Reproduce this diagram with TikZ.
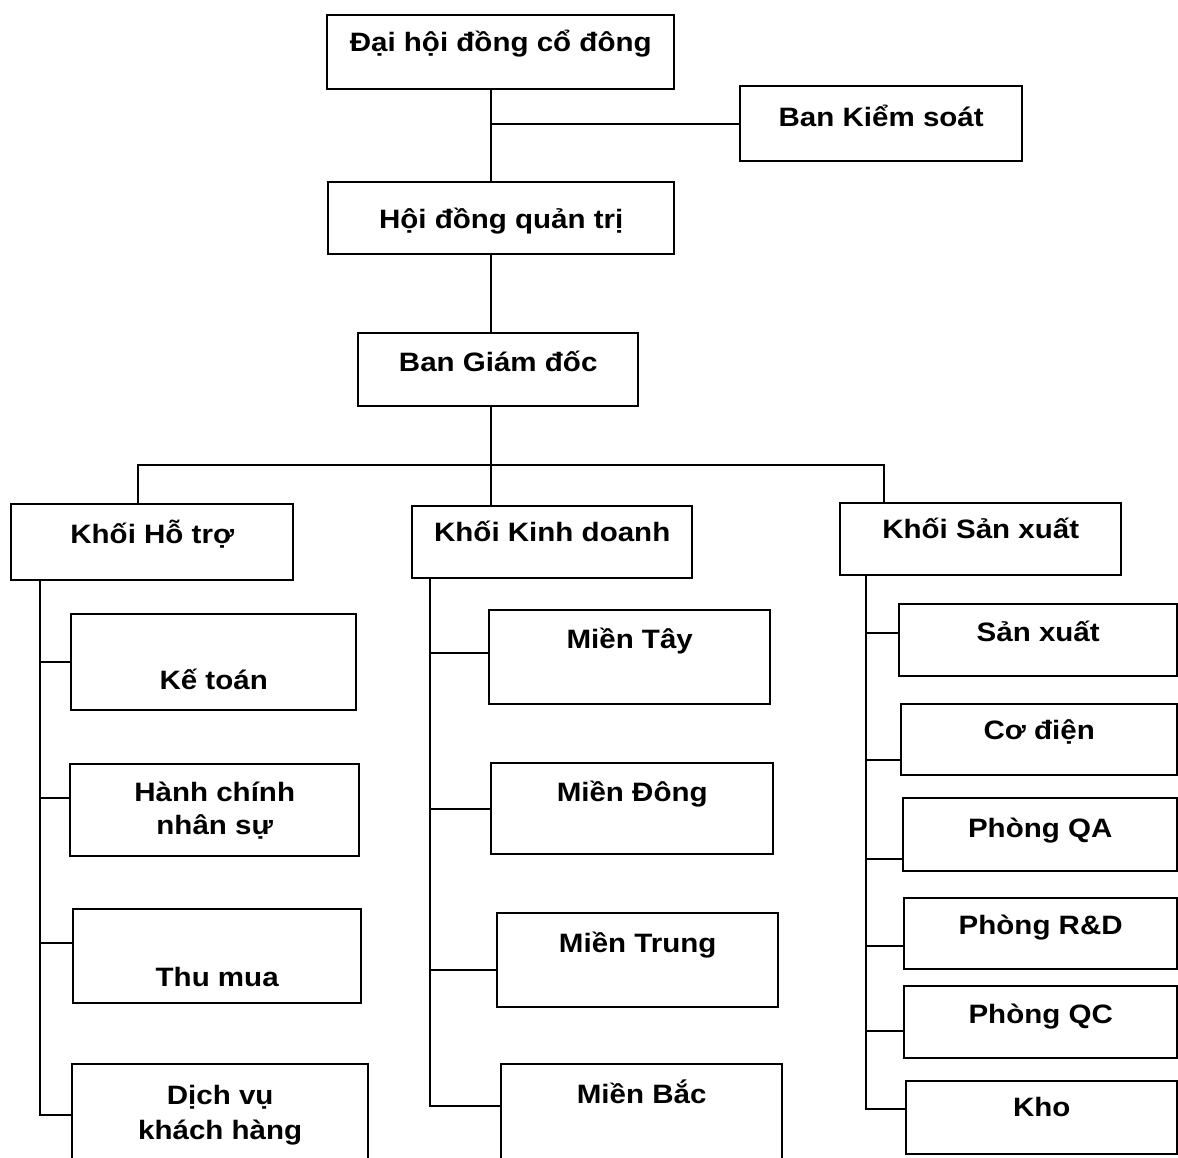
\documentclass[tikz,border=0pt]{standalone}
\usepackage{fontspec}
\setmainfont{Liberation Sans}[FakeStretch=1.11]
\usetikzlibrary{positioning}

\begin{document}
\begin{tikzpicture}[
            x=0.5pt, y=-0.5pt,
            box/.style={draw, line width=1.2pt, anchor=north west, inner sep=0pt,
                        align=center, font=\fontsize{13.3}{16.5}\selectfont\bfseries},
            link/.style={line width=1.2pt}
        ]

        \clip (0,0) rectangle (1178,1157);
        \fill[white] (0,0) rectangle (1178,1157);

        % Top levels (manual layout to match figure)
        \node[box, minimum width=173.5pt, text height=18pt, text depth=19pt] (dhcd) at (326,14) {Đại hội đồng cổ đông};
        \node[box, minimum width=141pt, text height=20pt, text depth=17.5pt] (bks) at (739,85) {Ban Kiểm soát};
        \node[box, minimum width=173pt, text height=23pt, text depth=13pt] (hdqt) at (327,181) {Hội đồng quản trị};
        \node[box, minimum width=140pt, text height=19pt, text depth=17.5pt] (bgd) at (357,332) {Ban Giám đốc};

        % Blocks
        \node[box, minimum width=141pt, text height=19.5pt, text depth=18.5pt] (kht) at (10,503) {Khối Hỗ trợ};
        \node[box, minimum width=140pt, text height=17.5pt, text depth=18.5pt] (kkd) at (411,505) {Khối Kinh doanh};
        \node[box, minimum width=140.5pt, text height=17.5pt, text depth=18.5pt] (ksx) at (839,502) {Khối Sản xuất};

        % Support units
        \node[box, minimum width=142.5pt, text height=37.5pt, text depth=10.5pt] (kt) at (70,613) {Kế toán};
        \node[box, minimum width=144.5pt, text height=35pt, text depth=11pt] (hc) at (69,763) {Hành chính\\nhân sự};
        \node[box, minimum width=144pt, text height=38.5pt, text depth=8.5pt] (tm) at (72,908) {Thu mua};
        \node[box, minimum width=148pt, text height=37.5pt, text depth=13.5pt] (dv) at (71,1063) {Dịch vụ\\[1pt]khách hàng};

        % Regions
        \node[box, minimum width=140.5pt, text height=19pt, text depth=28pt] (mt) at (488,609) {Miền Tây};
        \node[box, minimum width=141pt, text height=19pt, text depth=26.5pt] (md) at (490,762) {Miền Đông};
        \node[box, minimum width=140.5pt, text height=19.5pt, text depth=27.5pt] (mtr) at (496,912) {Miền Trung};
        \node[box, minimum width=140.5pt, text height=19.5pt, text depth=29pt] (mb) at (500,1063) {Miền Bắc};

        % Production units
        \node[box, minimum width=139pt, text height=18.5pt, text depth=17.5pt] (sx) at (898,603) {Sản xuất};
        \node[box, minimum width=138pt, text height=17.5pt, text depth=18pt] (cd) at (900,703) {Cơ điện};
        \node[box, minimum width=137pt, text height=19.5pt, text depth=17pt] (qa) at (902,797) {Phòng QA};
        \node[box, minimum width=136.5pt, text height=18pt, text depth=17.5pt] (rd) at (903,897) {Phòng R\&D};
        \node[box, minimum width=136.5pt, text height=18.5pt, text depth=17.5pt] (qc) at (903,985) {Phòng QC};
        \node[box, minimum width=135.5pt, text height=17.5pt, text depth=19pt] (kho) at (905,1080) {Kho};

        % Spines
        \coordinate (trunk) at (491,0);
        \coordinate (busL) at (138,465);
        \coordinate (busR) at (884,465);
        \coordinate (sL) at (40,579);
        \coordinate (sM) at (430,577);
        \coordinate (sR) at (866,574);

        % Edges
        \draw[link] (dhcd.south -| trunk) -- (hdqt.north -| trunk);
        \draw[link] (bks.west) -- (bks.west -| trunk);
        \draw[link] (hdqt.south -| trunk) -- (bgd.north -| trunk);
        \draw[link] (bgd.south -| trunk) -- (kkd.north -| trunk);
        \draw[link] (kht.north -| busL) |- (busR) -- (ksx.north -| busR);

        \draw[link] (sL) |- (dv.west);
        \draw[link] (kt.west) -- (kt.west -| sL);
        \draw[link] ([yshift=6pt]hc.west) -- ([yshift=6pt]hc.west -| sL);
        \draw[link] ([yshift=6.5pt]tm.west) -- ([yshift=6.5pt]tm.west -| sL);

        \draw[link] (sM) |- ([yshift=3.5pt]mb.west);
        \draw[link] ([yshift=2pt]mt.west) -- ([yshift=2pt]mt.west -| sM);
        \draw[link] (md.west) -- (md.west -| sM);
        \draw[link] ([yshift=-5pt]mtr.west) -- ([yshift=-5pt]mtr.west -| sM);

        \draw[link] (sR) |- ([yshift=4.5pt]kho.west);
        \draw[link] ([yshift=3.5pt]sx.west) -- ([yshift=3.5pt]sx.west -| sR);
        \draw[link] ([yshift=-10pt]cd.west) -- ([yshift=-10pt]cd.west -| sR);
        \draw[link] ([yshift=-12pt]qa.west) -- ([yshift=-12pt]qa.west -| sR);
        \draw[link] ([yshift=-6pt]rd.west) -- ([yshift=-6pt]rd.west -| sR);
        \draw[link] ([yshift=-4.5pt]qc.west) -- ([yshift=-4.5pt]qc.west -| sR);

    \end{tikzpicture}
\end{document}
